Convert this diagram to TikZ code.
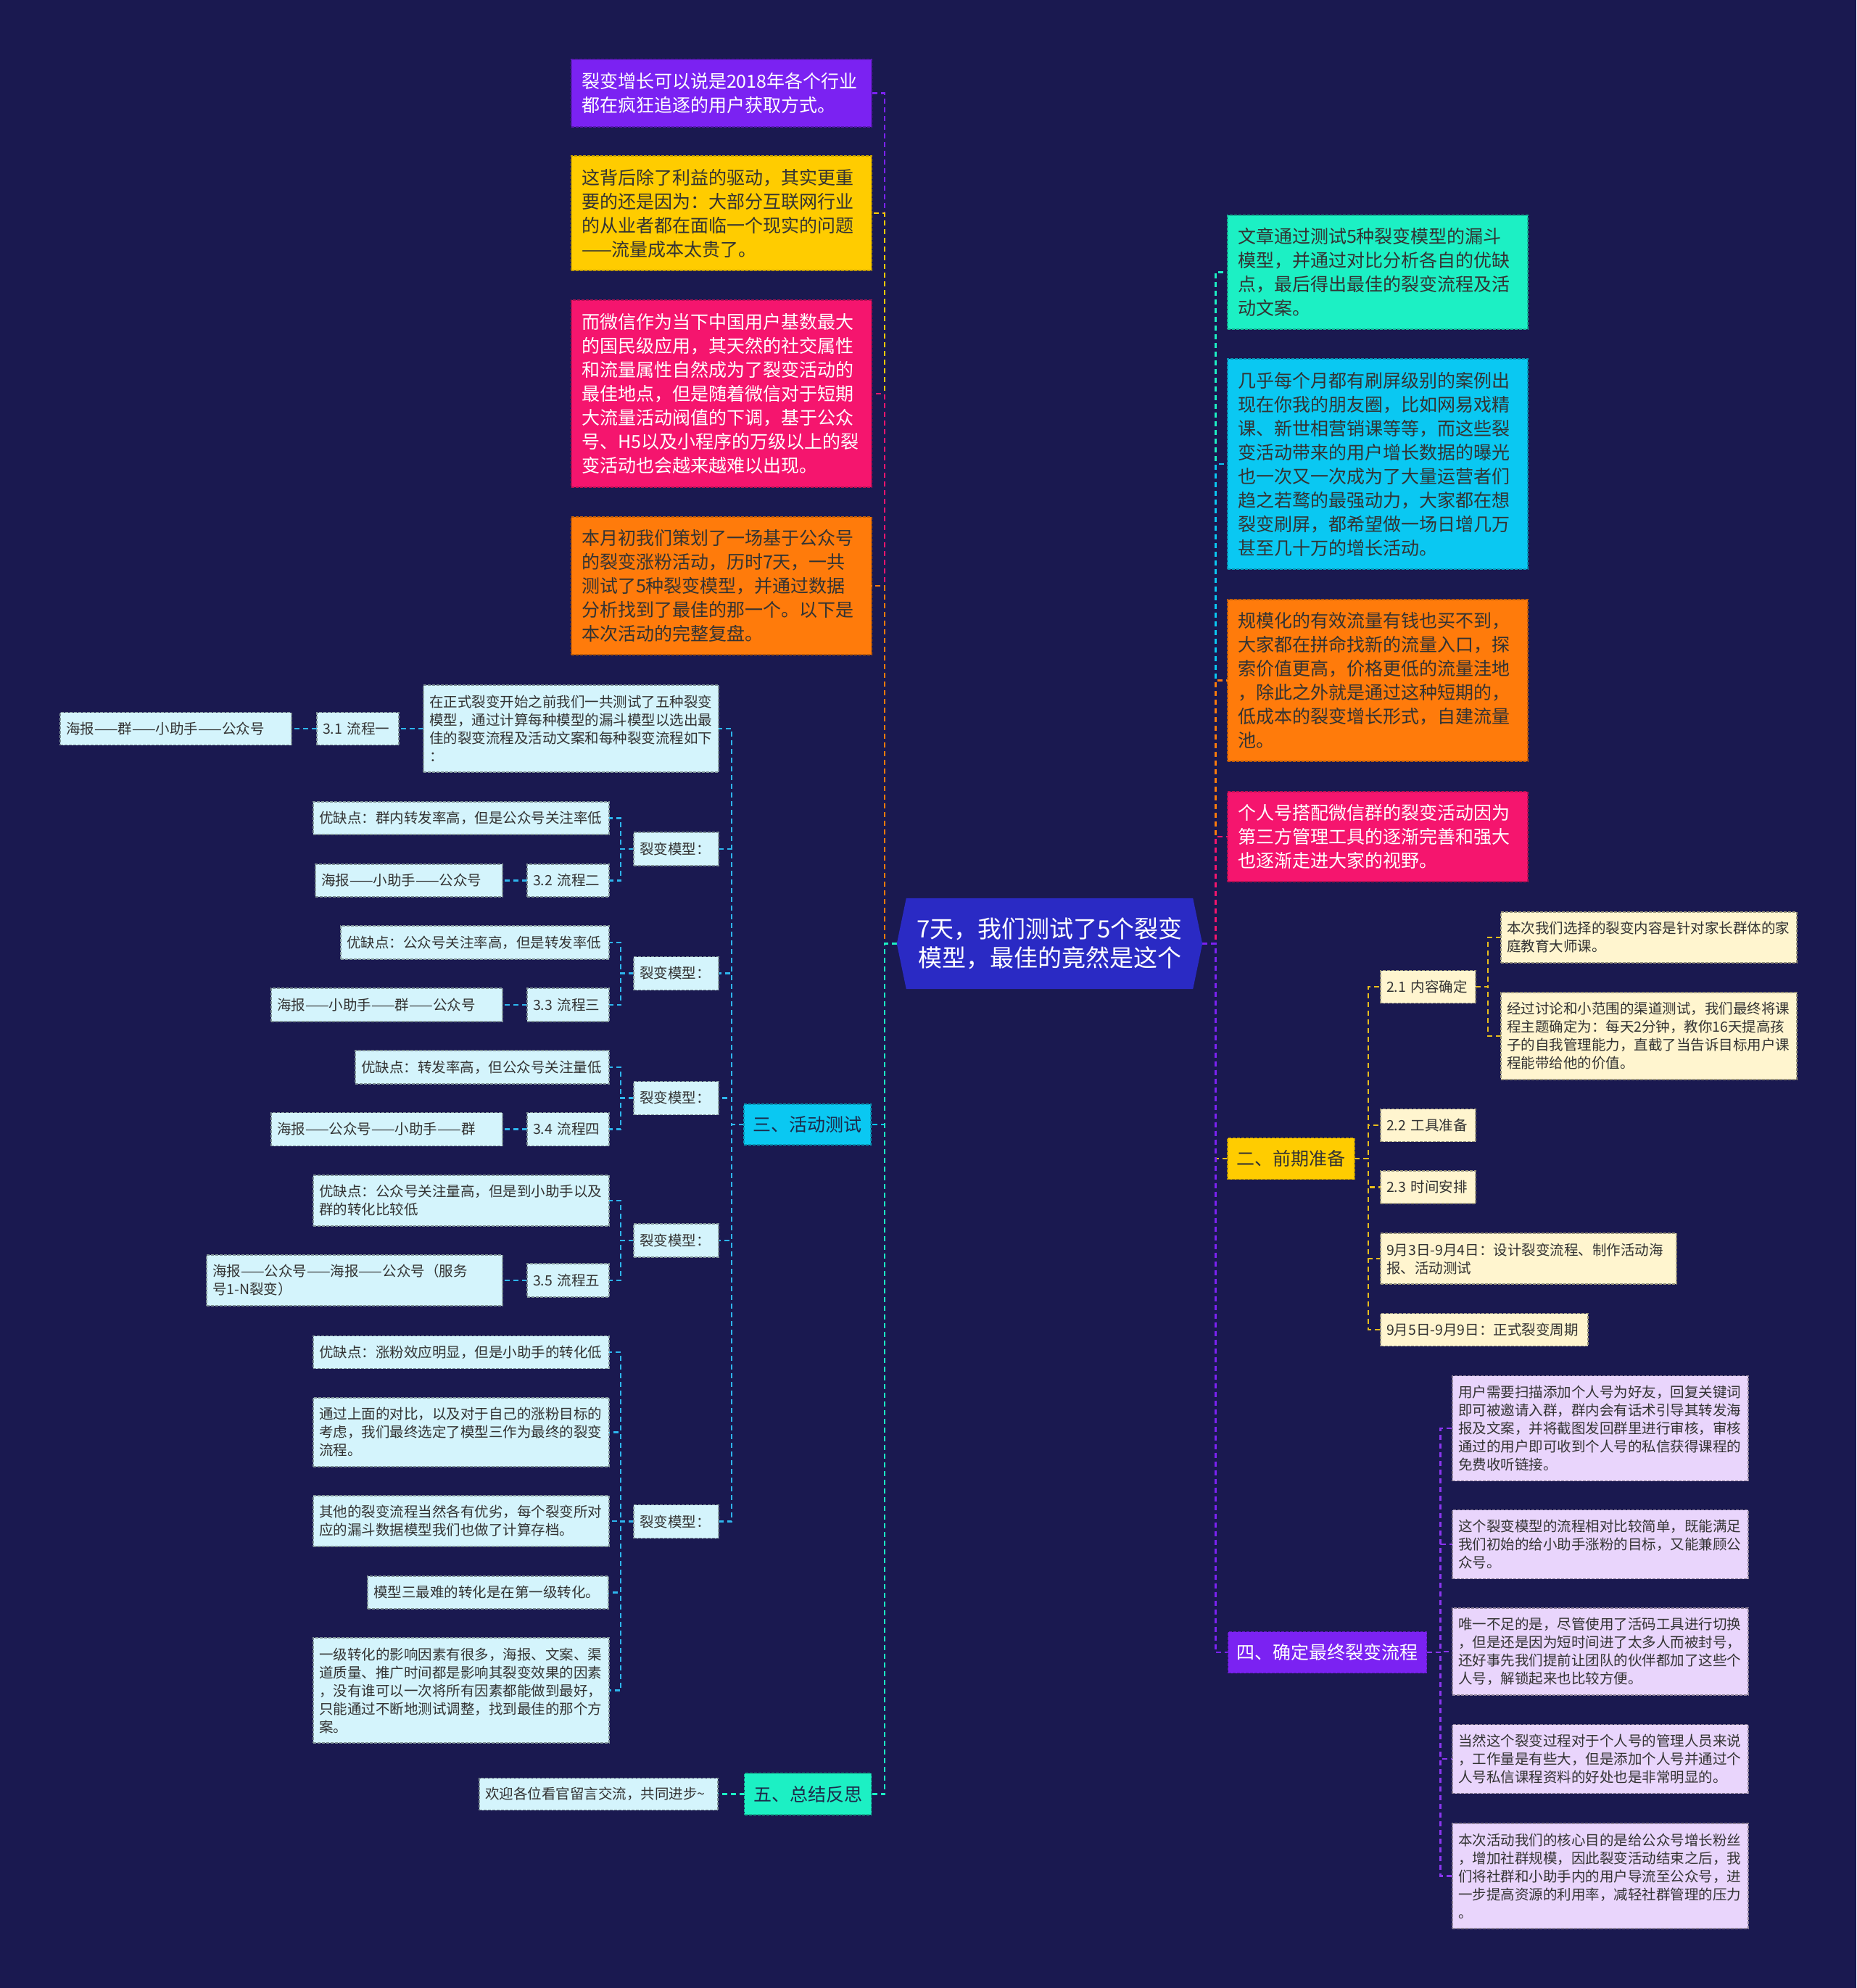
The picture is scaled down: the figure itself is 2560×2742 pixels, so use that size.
\documentclass[tikz,border=0pt]{standalone}
\usepackage{fontspec}
\setmainfont{Noto Sans CJK SC}
\pgfdeclarelayer{back}
\pgfsetlayers{back,main}
\definecolor{bgc}{HTML}{1A1950}
\definecolor{cPur}{HTML}{7B22F2}
\definecolor{cYel}{HTML}{FFCC00}
\definecolor{cPnk}{HTML}{F5156E}
\definecolor{cOrg}{HTML}{FF7B0B}
\definecolor{cAqu}{HTML}{1CF0C4}
\definecolor{cCyn}{HTML}{0AC8F2}
\definecolor{cRoot}{HTML}{2A2AC4}
\definecolor{pCyn}{HTML}{D4F4FC}
\definecolor{pYel}{HTML}{FFF5CF}
\definecolor{pPur}{HTML}{E9D5FC}
\definecolor{lCyn}{HTML}{2EB6EE}
\definecolor{lYel}{HTML}{E9BE1C}
\definecolor{lPur}{HTML}{8A35F0}
\definecolor{dTxt}{HTML}{333333}
\definecolor{nTxt}{HTML}{1C2A4A}
\begin{document}
\begin{tikzpicture}[x=1pt,y=-1pt,
  base/.style={rectangle, line width=1.2pt, dash pattern=on 4pt off 2pt, outer sep=0pt},
  pb/.style n args={3}{base, fill=#1, draw=#1!60!black, text=dTxt,
     font=\fontsize{19.5pt}{25pt}\selectfont, align=left, inner xsep=8pt, inner ysep=0pt,
     minimum width=#2pt, minimum height=#3pt, text width=#2pt-16pt},
  cb/.style n args={4}{base, fill=#1, draw=#1!75!black, text=#2,
     font=\fontsize{25pt}{33pt}\selectfont, align=left, inner xsep=14pt, inner ysep=0pt,
     minimum width=#3pt, minimum height=#4pt, text width=#3pt-28pt},
  sec/.style n args={4}{base, fill=#1, draw=#1!75!black, text=#2,
     font=\fontsize{25pt}{30pt}\selectfont, align=center, inner sep=0pt,
     minimum width=#3pt, minimum height=#4pt},
  conn/.style={draw=#1, line width=2.6pt, dash pattern=on 7pt off 5pt}
]
\useasboundingbox (0,0) rectangle (2560,2742);
\begin{pgfonlayer}{back}
\fill[bgc] (0,0) rectangle (2560,2742);
\end{pgfonlayer}

% root
\node[font=\fontsize{33pt}{40pt}\selectfont, text=white, align=center, minimum width=421pt, minimum height=125pt, inner sep=0pt] (root) at (1447.5,1301.5) {7天，我们测试了5个裂变\\模型，最佳的竟然是这个};

% left top coloured boxes
\node[cb={cPur}{white}{414}{93}] (t1) at (995,128.5) {裂变增长可以说是2018年各个行业\\都在疯狂追逐的用户获取方式。};
\node[cb={cYel}{dTxt}{414}{158}] (t2) at (995,294) {这背后除了利益的驱动，其实更重\\要的还是因为：大部分互联网行业\\的从业者都在面临一个现实的问题\\——流量成本太贵了。};
\node[cb={cPnk}{white}{414}{258}] (t3) at (995,543) {而微信作为当下中国用户基数最大\\的国民级应用，其天然的社交属性\\和流量属性自然成为了裂变活动的\\最佳地点，但是随着微信对于短期\\大流量活动阀值的下调，基于公众\\号、H5以及小程序的万级以上的裂\\变活动也会越来越难以出现。};
\node[cb={cOrg}{dTxt}{414}{190}] (t4) at (995,808) {本月初我们策划了一场基于公众号\\的裂变涨粉活动，历时7天，一共\\测试了5种裂变模型，并通过数据\\分析找到了最佳的那一个。以下是\\本次活动的完整复盘。};

% right top coloured boxes
\node[cb={cAqu}{dTxt}{414}{157}] (u1) at (1900,375.5) {文章通过测试5种裂变模型的漏斗\\模型，并通过对比分析各自的优缺\\点，最后得出最佳的裂变流程及活\\动文案。};
\node[cb={cCyn}{dTxt}{414}{290}] (u2) at (1900,640) {几乎每个月都有刷屏级别的案例出\\现在你我的朋友圈，比如网易戏精\\课、新世相营销课等等，而这些裂\\变活动带来的用户增长数据的曝光\\也一次又一次成为了大量运营者们\\趋之若鹜的最强动力，大家都在想\\裂变刷屏，都希望做一场日增几万\\甚至几十万的增长活动。};
\node[cb={cOrg}{dTxt}{414}{223}] (u3) at (1900,938.5) {规模化的有效流量有钱也买不到，\\大家都在拼命找新的流量入口，探\\索价值更高，价格更低的流量洼地\\，除此之外就是通过这种短期的，\\低成本的裂变增长形式，自建流量\\池。};
\node[cb={cPnk}{white}{414}{124}] (u4) at (1900,1154) {个人号搭配微信群的裂变活动因为\\第三方管理工具的逐渐完善和强大\\也逐渐走进大家的视野。};

% section nodes
\node[sec={cCyn}{nTxt}{175}{56}] (s3) at (1113.5,1551) {三、活动测试};
\node[sec={cAqu}{nTxt}{175}{57}] (s5) at (1114,2474.5) {五、总结反思};
\node[sec={cYel}{dTxt}{175}{57}] (s2) at (1780.5,1598) {二、前期准备};
\node[sec={cPur}{white}{274}{57}] (s4) at (1830.5,2279) {四、确定最终裂变流程};

% section 3 subtree
\node[pb={pCyn}{407}{120}] (p1) at (787.5,1005) {在正式裂变开始之前我们一共测试了五种裂变\\模型，通过计算每种模型的漏斗模型以选出最\\佳的裂变流程及活动文案和每种裂变流程如下\\：};
\node[pb={pCyn}{113}{45}] (p2) at (493.5,1005) {3.1 流程一};
\node[pb={pCyn}{319}{45}] (p3) at (242.5,1005) {海报——群——小助手——公众号};

\node[pb={pCyn}{117}{46}] (p4) at (932.5,1171) {裂变模型：};
\node[pb={pCyn}{408}{45}] (p5) at (636,1128.5) {优缺点：群内转发率高，但是公众号关注率低};
\node[pb={pCyn}{113}{45}] (p6) at (783.5,1214.5) {3.2 流程二};
\node[pb={pCyn}{258}{45}] (p7) at (564,1214.5) {海报——小助手——公众号};

\node[pb={pCyn}{117}{46}] (p8) at (932.5,1342.5) {裂变模型：};
\node[pb={pCyn}{370}{46}] (p9) at (655,1300) {优缺点：公众号关注率高，但是转发率低};
\node[pb={pCyn}{113}{46}] (p10) at (783.5,1386) {3.3 流程三};
\node[pb={pCyn}{319}{46}] (p11) at (533.5,1386) {海报——小助手——群——公众号};

\node[pb={pCyn}{117}{46}] (p12) at (932.5,1514.5) {裂变模型：};
\node[pb={pCyn}{350}{46}] (p13) at (665,1472) {优缺点：转发率高，但公众号关注量低};
\node[pb={pCyn}{113}{46}] (p14) at (783.5,1557.5) {3.4 流程四};
\node[pb={pCyn}{319}{46}] (p15) at (533.5,1557.5) {海报——公众号——小助手——群};

\node[pb={pCyn}{117}{46}] (p16) at (932.5,1711) {裂变模型：};
\node[pb={pCyn}{408}{70}] (p17) at (636,1656) {优缺点：公众号关注量高，但是到小助手以及\\群的转化比较低};
\node[pb={pCyn}{113}{46}] (p18) at (783.5,1766) {3.5 流程五};
\node[pb={pCyn}{408}{70}] (p19) at (489,1766) {海报——公众号——海报——公众号（服务\\号1-N裂变）};

\node[pb={pCyn}{117}{46}] (p20) at (932.5,2098.5) {裂变模型：};
\node[pb={pCyn}{408}{45}] (p21) at (636,1865) {优缺点：涨粉效应明显，但是小助手的转化低};
\node[pb={pCyn}{408}{95}] (p22) at (636,1975.5) {通过上面的对比，以及对于自己的涨粉目标的\\考虑，我们最终选定了模型三作为最终的裂变\\流程。};
\node[pb={pCyn}{408}{70}] (p23) at (636,2098) {其他的裂变流程当然各有优劣，每个裂变所对\\应的漏斗数据模型我们也做了计算存档。};
\node[pb={pCyn}{332}{45}] (p24) at (673,2196.5) {模型三最难的转化是在第一级转化。};
\node[pb={pCyn}{408}{145}] (p25) at (636,2331.5) {一级转化的影响因素有很多，海报、文案、渠\\道质量、推广时间都是影响其裂变效果的因素\\，没有谁可以一次将所有因素都能做到最好，\\只能通过不断地测试调整，找到最佳的那个方\\案。};

% section 5 child
\node[pb={pCyn}{329}{44}] (p26) at (825.5,2474.5) {欢迎各位看官留言交流，共同进步\char"007E};

% section 2 subtree
\node[pb={pYel}{131}{45}] (q1) at (1969.5,1361) {2.1 内容确定};
\node[pb={pYel}{408}{70}] (q2) at (2274,1293) {本次我们选择的裂变内容是针对家长群体的家\\庭教育大师课。};
\node[pb={pYel}{408}{120}] (q3) at (2274,1429) {经过讨论和小范围的渠道测试，我们最终将课\\程主题确定为：每天2分钟，教你16天提高孩\\子的自我管理能力，直截了当告诉目标用户课\\程能带给他的价值。};
\node[pb={pYel}{131}{45}] (q4) at (1969.5,1552) {2.2 工具准备};
\node[pb={pYel}{131}{45}] (q5) at (1969.5,1637.5) {2.3 时间安排};
\node[pb={pYel}{408}{70}] (q6) at (2108,1736) {9月3日-9月4日：设计裂变流程、制作活动海\\报、活动测试};
\node[pb={pYel}{286}{45}] (q7) at (2047,1834) {9月5日-9月9日：正式裂变周期};

% section 4 subtree
\node[pb={pPur}{408}{145}] (r1) at (2207,1970) {用户需要扫描添加个人号为好友，回复关键词\\即可被邀请入群，群内会有话术引导其转发海\\报及文案，并将截图发回群里进行审核，审核\\通过的用户即可收到个人号的私信获得课程的\\免费收听链接。};
\node[pb={pPur}{408}{95}] (r2) at (2207,2130) {这个裂变模型的流程相对比较简单，既能满足\\我们初始的给小助手涨粉的目标，又能兼顾公\\众号。};
\node[pb={pPur}{408}{120}] (r3) at (2207,2278) {唯一不足的是，尽管使用了活码工具进行切换\\，但是还是因为短时间进了太多人而被封号，\\还好事先我们提前让团队的伙伴都加了这些个\\人号，解锁起来也比较方便。};
\node[pb={pPur}{408}{95}] (r4) at (2207,2426) {当然这个裂变过程对于个人号的管理人员来说\\，工作量是有些大，但是添加个人号并通过个\\人号私信课程资料的好处也是非常明显的。};
\node[pb={pPur}{408}{145}] (r5) at (2207,2587.5) {本次活动我们的核心目的是给公众号增长粉丝\\，增加社群规模，因此裂变活动结束之后，我\\们将社群和小助手内的用户导流至公众号，进\\一步提高资源的利用率，减轻社群管理的压力\\。};

\begin{pgfonlayer}{back}
% root -> left
\draw[conn=cPur] (root.west) -- ++(-17,0) |- (t1.east);
\draw[conn=cYel] (root.west) -- ++(-17,0) |- (t2.east);
\draw[conn=cPnk] (root.west) -- ++(-17,0) |- (t3.east);
\draw[conn=cOrg] (root.west) -- ++(-17,0) |- (t4.east);
\draw[conn=cCyn] (root.west) -- ++(-17,0) |- (s3.east);
\draw[conn=cAqu] (root.west) -- ++(-17,0) |- (s5.east);
% root -> right
\draw[conn=cAqu] (root.east) -- ++(18,0) |- (u1.west);
\draw[conn=cCyn] (root.east) -- ++(18,0) |- (u2.west);
\draw[conn=cOrg] (root.east) -- ++(18,0) |- (u3.west);
\draw[conn=cPnk] (root.east) -- ++(18,0) |- (u4.west);
\draw[conn=lYel] (root.east) -- ++(18,0) |- (s2.west);
\draw[conn=cPur] (root.east) -- ++(18,0) |- (s4.west);
% section 3
\foreach \c in {p1,p4,p8,p12,p16,p20}
  \draw[conn=lCyn] (s3.west) -- ++(-17,0) |- (\c.east);
\draw[conn=lCyn] (p1.west) -- (p2.east);
\draw[conn=lCyn] (p2.west) -- (p3.east);
\draw[conn=lCyn] (p4.west) -- ++(-18,0) |- (p5.east);
\draw[conn=lCyn] (p4.west) -- ++(-18,0) |- (p6.east);
\draw[conn=lCyn] (p6.west) -- (p7.east);
\draw[conn=lCyn] (p8.west) -- ++(-18,0) |- (p9.east);
\draw[conn=lCyn] (p8.west) -- ++(-18,0) |- (p10.east);
\draw[conn=lCyn] (p10.west) -- (p11.east);
\draw[conn=lCyn] (p12.west) -- ++(-18,0) |- (p13.east);
\draw[conn=lCyn] (p12.west) -- ++(-18,0) |- (p14.east);
\draw[conn=lCyn] (p14.west) -- (p15.east);
\draw[conn=lCyn] (p16.west) -- ++(-18,0) |- (p17.east);
\draw[conn=lCyn] (p16.west) -- ++(-18,0) |- (p18.east);
\draw[conn=lCyn] (p18.west) -- (p19.east);
\foreach \c in {p21,p22,p23,p24,p25}
  \draw[conn=lCyn] (p20.west) -- ++(-18,0) |- (\c.east);
% section 5
\draw[conn=cAqu] (s5.west) -- (p26.east);
% section 2
\foreach \c in {q1,q4,q5,q6,q7}
  \draw[conn=lYel] (s2.east) -- ++(19,0) |- (\c.west);
\draw[conn=lYel] (q1.east) -- ++(17,0) |- (q2.west);
\draw[conn=lYel] (q1.east) -- ++(17,0) |- (q3.west);
% section 4
\foreach \c in {r1,r2,r3,r4,r5}
  \draw[conn=lPur] (s4.east) -- ++(19,0) |- (\c.west);
% root hexagon
\fill[cRoot] (root.west) -- ([xshift=13pt]root.north west) -- ([xshift=-13pt]root.north east) -- (root.east) -- ([xshift=-13pt]root.south east) -- ([xshift=13pt]root.south west) -- cycle;
\end{pgfonlayer}
\end{tikzpicture}
\end{document}
